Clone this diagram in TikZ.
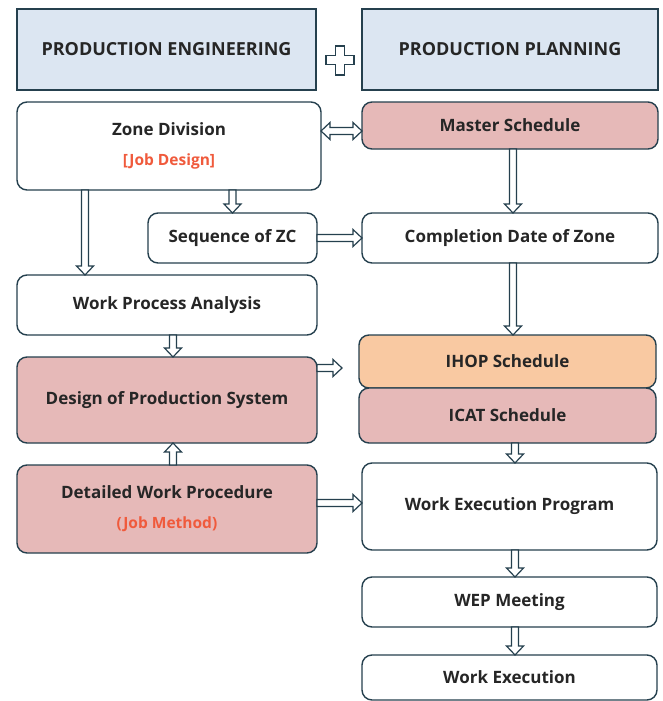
\documentclass[tikz,border=0pt]{standalone}
\usepackage{fontspec}
\setmainfont{Open Sans}
\usetikzlibrary{calc}

\definecolor{edge}{HTML}{25404E}
\definecolor{hdrfill}{HTML}{DCE6F2}
\definecolor{pinkfill}{HTML}{E6B9B8}
\definecolor{peachfill}{HTML}{F9C9A2}
\definecolor{notecol}{HTML}{F05A3C}

% block-arrow geometry
\newcommand\shw{3.5pt}% half shaft width
\newcommand\hdw{8.5pt}% half head width
\newcommand\hdl{9pt}% head length

% hollow block arrow from #1 to #2
\newcommand\blockarrow[2]{%
  \coordinate (ba-s) at (#1);
  \coordinate (ba-e) at (#2);
  \coordinate (ba-h) at ($(ba-e)!\hdl!(ba-s)$);
  \draw[arrowbody]
    ($(ba-s)!\shw!90:(ba-e)$)
    -- ($(ba-h)!\shw!90:(ba-e)$)
    -- ($(ba-h)!\hdw!90:(ba-e)$)
    -- (ba-e)
    -- ($(ba-h)!\hdw!-90:(ba-e)$)
    -- ($(ba-h)!\shw!-90:(ba-e)$)
    -- ($(ba-s)!\shw!-90:(ba-e)$) -- cycle;}

% hollow block arrow with heads at both ends
\newcommand\blockarrowboth[2]{%
  \coordinate (bb-s) at (#1);
  \coordinate (bb-e) at (#2);
  \coordinate (bb-h) at ($(bb-e)!\hdl!(bb-s)$);
  \coordinate (bb-g) at ($(bb-s)!\hdl!(bb-e)$);
  \draw[arrowbody]
    (bb-s)
    -- ($(bb-g)!\hdw!-90:(bb-e)$)
    -- ($(bb-g)!\shw!-90:(bb-e)$)
    -- ($(bb-h)!\shw!90:(bb-s)$)
    -- ($(bb-h)!\hdw!90:(bb-s)$)
    -- (bb-e)
    -- ($(bb-h)!\hdw!-90:(bb-s)$)
    -- ($(bb-h)!\shw!-90:(bb-s)$)
    -- ($(bb-g)!\shw!90:(bb-e)$)
    -- ($(bb-g)!\hdw!90:(bb-e)$)
    -- cycle;}

\begin{document}
\begin{tikzpicture}[x=1pt, y=-1pt,
  box/.style={draw=edge, line width=1.4pt, rounded corners=10pt, fill=white,
    align=center, inner sep=0pt, outer sep=0pt,
    font=\bfseries\fontsize{17}{20}\selectfont, text=black!85},
  pinkbox/.style={box, fill=pinkfill},
  header/.style={draw=edge, line width=1.4pt, fill=hdrfill, inner sep=0pt,
    outer sep=0pt, font=\bfseries\fontsize{18}{20}\selectfont, text=black!85},
  arrowbody/.style={draw=edge, line width=1.2pt, fill=white, line join=miter}]

\useasboundingbox (0,0) rectangle (662,701);
\fill[white] (0,0) rectangle (662,701);

% column headers
\node[header, minimum width=299pt, minimum height=81pt] (pe) at (166.5,49.5) {PRODUCTION ENGINEERING};
\node[header, minimum width=296pt, minimum height=81pt] (pp) at (510,49.5) {PRODUCTION PLANNING};

% plus sign between the headers
\draw[arrowbody] (335.5,46) -- (344.5,46) -- (344.5,55.5) -- (354,55.5) -- (354,64.5)
  -- (344.5,64.5) -- (344.5,75) -- (335.5,75) -- (335.5,64.5) -- (326,64.5)
  -- (326,55.5) -- (335.5,55.5) -- cycle;

% production engineering column
\node[box, minimum width=304pt, minimum height=88pt] (zd) at (169,146)
  {Zone Division\\[10pt]{\color{notecol}\fontsize{15.5}{18}\selectfont[Job Design]}};
\node[box, minimum width=169pt, minimum height=50pt] (seq) at (232.5,238) {Sequence of ZC};
\node[box, minimum width=300pt, minimum height=60pt] (wpa) at (167,305) {Work Process Analysis};
\node[pinkbox, minimum width=300pt, minimum height=86pt] (dps) at (167,400) {Design of Production System};
\node[pinkbox, minimum width=300pt, minimum height=88pt] (dwp) at (167,509)
  {Detailed Work Procedure\\[10pt]{\color{notecol}\fontsize{15.5}{18}\selectfont(Job Method)}};

% production planning column
\node[pinkbox, minimum width=296pt, minimum height=47pt] (ms) at (510,125.5) {Master Schedule};
\node[box, minimum width=296pt, minimum height=50pt] (cdz) at (510,238) {Completion Date of Zone};
\node[box, fill=peachfill, minimum width=297pt, minimum height=53pt] (ihop) at (507.5,361.5) {IHOP Schedule};
\node[pinkbox, minimum width=297pt, minimum height=55pt] (icat) at (507.5,415.5) {ICAT Schedule};
\node[box, minimum width=295pt, minimum height=87pt] (wep) at (509.5,506.5) {Work Execution Program};
\node[box, minimum width=295pt, minimum height=50pt] (wem) at (509.5,602) {WEP Meeting};
\node[box, minimum width=295pt, minimum height=45pt] (we) at (509.5,677.5) {Work Execution};

% connectors
\blockarrowboth{zd.east |- 0,131}{ms.west |- 0,131}
\blockarrow{ms.south -| 513,0}{cdz.north -| 513,0}
\blockarrow{zd.south -| seq.north}{seq.north}
\blockarrow{zd.south -| 85,0}{wpa.north -| 85,0}
\blockarrow{seq.east}{cdz.west |- seq.east}
\blockarrow{cdz.south -| 513,0}{ihop.north -| 513,0}
\blockarrow{wpa.south -| 173,0}{dps.north -| 173,0}
\coordinate (dps-out) at (342,368);
\blockarrow{dps.east |- dps-out}{dps-out}
\blockarrow{dwp.north -| 173,0}{dps.south -| 173,0}
\blockarrow{dwp.east |- 0,503}{wep.west |- 0,503}
\blockarrow{icat.south -| 515,0}{wep.north -| 515,0}
\blockarrow{wep.south -| 515,0}{wem.north -| 515,0}
\blockarrow{wem.south -| 515,0}{we.north -| 515,0}

\end{tikzpicture}
\end{document}
